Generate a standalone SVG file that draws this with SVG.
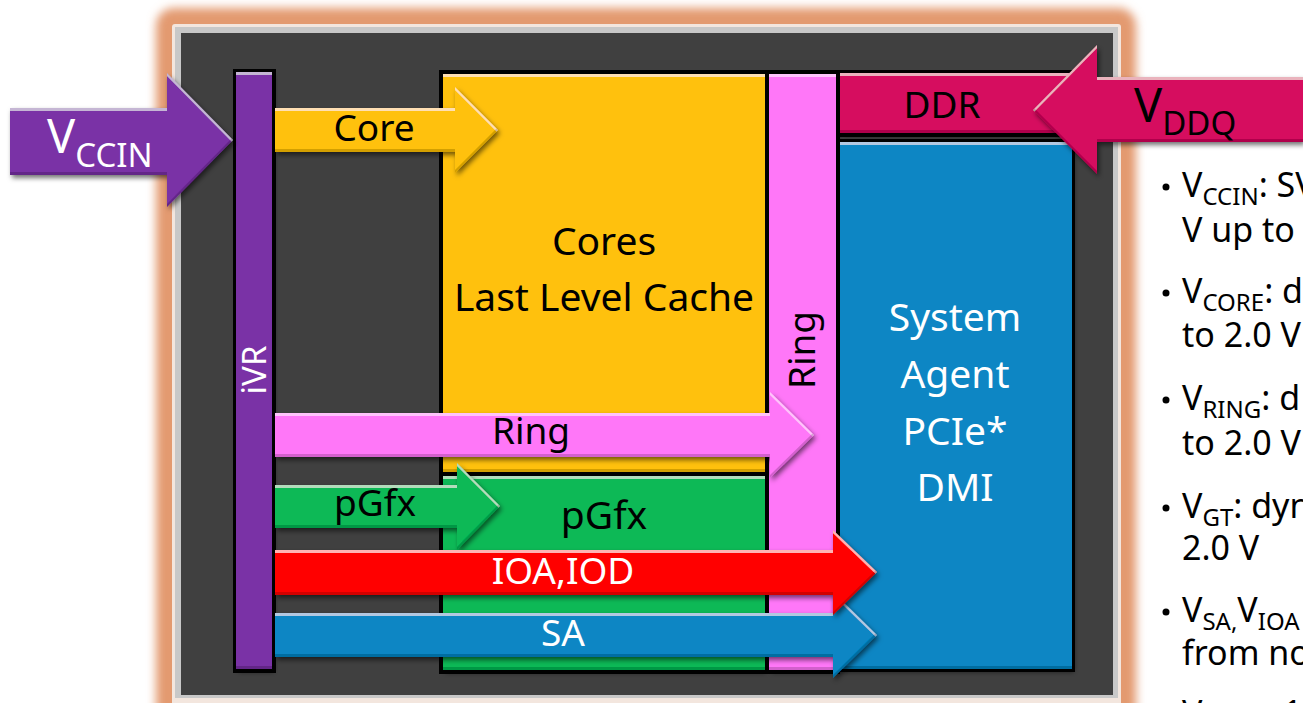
<svg xmlns="http://www.w3.org/2000/svg" width="1303" height="703" viewBox="0 0 1303 703">
  <defs>
    <style>
      text { font-family: "Noto Sans", "Open Sans", sans-serif; }
      .lbl { font-size: 37px; text-anchor: middle; fill: #000; }
      .big { font-size: 39px; text-anchor: middle; }
      .wht { fill: #fff; }
      .note { font-size: 34px; fill: #000; }
      .sub { font-size: 24px; }
      .edge { fill: #000; }
    </style>
    <!-- bevelled shape: light top rim, dark bottom rim, soft drop shadow -->
    <filter id="bevel" x="-10%" y="-20%" width="125%" height="150%">
      <feOffset in="SourceAlpha" dy="3" result="dn"/>
      <feComposite in="SourceAlpha" in2="dn" operator="out" result="topE"/>
      <feGaussianBlur in="topE" stdDeviation="0.6" result="topB"/>
      <feFlood flood-color="#fff" flood-opacity="0.45"/>
      <feComposite in2="topB" operator="in" result="hi"/>
      <feOffset in="SourceAlpha" dy="-3" result="up"/>
      <feComposite in="SourceAlpha" in2="up" operator="out" result="botE"/>
      <feGaussianBlur in="botE" stdDeviation="0.6" result="botB"/>
      <feFlood flood-color="#000" flood-opacity="0.35"/>
      <feComposite in2="botB" operator="in" result="lo"/>
      <feGaussianBlur in="SourceAlpha" stdDeviation="2.5" result="sb"/>
      <feOffset in="sb" dx="2" dy="3" result="so"/>
      <feFlood flood-color="#000" flood-opacity="0.55"/>
      <feComposite in2="so" operator="in" result="shadow"/>
      <feMerge>
        <feMergeNode in="shadow"/>
        <feMergeNode in="SourceGraphic"/>
        <feMergeNode in="hi"/>
        <feMergeNode in="lo"/>
      </feMerge>
    </filter>
    <filter id="glow" x="-10%" y="-10%" width="120%" height="120%">
      <feGaussianBlur stdDeviation="5"/>
    </filter>
  </defs>

  <rect width="1303" height="703" fill="#fff"/>

  <!-- die frame with warm glow -->
  <g id="frame">
    <rect x="156" y="8" width="980" height="720" rx="18" fill="#E39A70" filter="url(#glow)"/>
    <rect x="172" y="24" width="949" height="690" rx="3" fill="#F3E6DE"/>
    <rect x="175" y="27" width="943" height="671" fill="#C8C8C8"/>
    <rect x="181" y="33" width="932" height="662" fill="#404040"/>
  </g>

  <g id="ivr">
    <rect class="edge" x="233" y="69" width="43" height="604"/>
    <rect x="236" y="72" width="36" height="597" fill="#7A33A6" filter="url(#bevel)"/>
    <text class="wht" transform="rotate(-90 254 370)" x="254" y="382" font-size="33" text-anchor="middle">iVR</text>
  </g>

  <g id="cores">
    <rect class="edge" x="439" y="70" width="330" height="405"/>
    <rect x="443" y="74" width="322" height="398" fill="#FFC10C" filter="url(#bevel)"/>
    <text class="big" x="604" y="255">Cores</text>
    <text class="big" x="604" y="311">Last Level Cache</text>
  </g>

  <g id="pgfx">
    <rect class="edge" x="439" y="473" width="330" height="201"/>
    <rect x="443" y="476" width="322" height="194" fill="#08B957" filter="url(#bevel)"/>
    <text class="big" x="604" y="529">pGfx</text>
  </g>

  <g id="ring">
    <rect class="edge" x="766" y="70" width="74" height="604"/>
    <rect x="769" y="74" width="67" height="596" fill="#FF77F8" filter="url(#bevel)"/>
    <text class="lbl" transform="rotate(-90 802 350)" x="802" y="363">Ring</text>
  </g>

  <g id="ddr">
    <rect class="edge" x="837" y="70" width="239" height="67"/>
    <rect x="840" y="73" width="233" height="60" fill="#D6075F" filter="url(#bevel)"/>
    <text class="lbl" x="942" y="118">DDR</text>
  </g>

  <g id="system-agent">
    <rect class="edge" x="837" y="139" width="238" height="533"/>
    <rect x="840" y="142" width="232" height="527" fill="#0E86C4" filter="url(#bevel)"/>
    <text class="big wht" x="955" y="331">System</text>
    <text class="big wht" x="955" y="388">Agent</text>
    <text class="big wht" x="955" y="445">PCIe*</text>
    <text class="big wht" x="955" y="501">DMI</text>
  </g>

  <!-- supply rails -->
  <g id="connectors">
    <g id="vccin">
      <polygon points="10,108 167,108 167,73 233,140 167,207 167,175 10,175" fill="#7A33A6" filter="url(#bevel)"/>
      <text class="wht" x="47" y="153" font-size="47">V<tspan font-size="33" dy="14">CCIN</tspan></text>
    </g>
    <g id="vddq">
      <polygon points="1303,77 1097,77 1097,45 1033,110 1097,174 1097,142 1303,142" fill="#D6075F" filter="url(#bevel)"/>
      <text x="1134" y="122" font-size="47">V<tspan font-size="33" dy="13">DDQ</tspan></text>
    </g>
    <g id="core-rail">
      <polygon points="275,108 455,108 455,87 498,130 455,173 455,152 275,152" fill="#FFC10C" filter="url(#bevel)"/>
      <text class="lbl" x="374" y="141">Core</text>
    </g>
    <g id="ring-rail">
      <polygon points="275,413 770,413 770,392 814,435 770,478 770,457 275,457" fill="#FF77F8" filter="url(#bevel)"/>
      <text class="lbl" x="531" y="444">Ring</text>
    </g>
    <g id="pgfx-rail">
      <polygon points="275,485 457,485 457,463 500,506 457,550 457,528 275,528" fill="#08B957" filter="url(#bevel)"/>
      <text class="lbl" x="375" y="516">pGfx</text>
    </g>
    <g id="sa-rail">
      <polygon points="275,613 833,613 833,592 877,635 833,678 833,657 275,657" fill="#0E86C4" filter="url(#bevel)"/>
      <text class="lbl wht" x="563" y="646">SA</text>
    </g>
    <g id="ioa-rail">
      <polygon points="275,550 833,550 833,530 877,572 833,615 833,595 275,595" fill="#FF0000" filter="url(#bevel)"/>
      <text class="lbl wht" x="563" y="584">IOA,IOD</text>
    </g>
  </g>

  <!-- voltage notes -->
  <g id="notes" class="note">
    <circle cx="1166" cy="187" r="3.5"/>
    <text x="1182" y="197">V<tspan class="sub" dy="8">CCIN</tspan><tspan dy="-8">: SV</tspan></text>
    <text x="1182" y="242">V up to</text>
    <circle cx="1166" cy="293" r="3.5"/>
    <text x="1182" y="303">V<tspan class="sub" dy="8">CORE</tspan><tspan dy="-8">: d</tspan></text>
    <text x="1182" y="347">to 2.0 V</text>
    <circle cx="1166" cy="400" r="3.5"/>
    <text x="1182" y="410">V<tspan class="sub" dy="8">RING</tspan><tspan dy="-8">: d</tspan></text>
    <text x="1182" y="455">to 2.0 V</text>
    <circle cx="1166" cy="508" r="3.5"/>
    <text x="1182" y="518">V<tspan class="sub" dy="8">GT</tspan><tspan dy="-8">: dyn</tspan></text>
    <text x="1182" y="560">2.0 V</text>
    <circle cx="1166" cy="612" r="3.5"/>
    <text x="1182" y="622">V<tspan class="sub" dy="8">SA,</tspan><tspan dy="-8">V</tspan><tspan class="sub" dy="8">IOA</tspan></text>
    <text x="1182" y="665">from no</text>
    <circle cx="1166" cy="715" r="3.5"/>
    <text x="1182" y="725">V</text>
    <text x="1283" y="725">1</text>
  </g>
</svg>
